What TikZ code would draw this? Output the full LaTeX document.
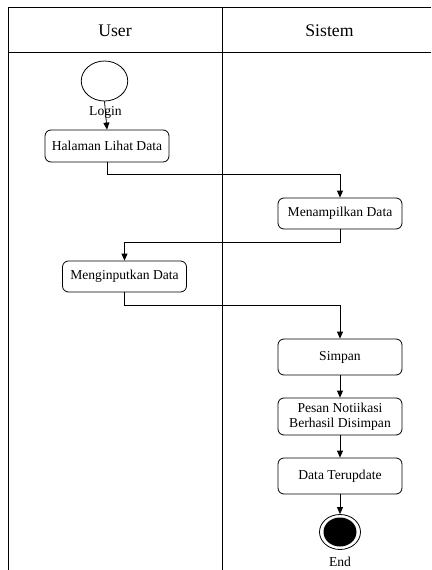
\documentclass[tikz,border=0pt]{standalone}
\usepackage{fontspec}
\setmainfont{Liberation Serif}
\usetikzlibrary{shapes.geometric,arrows.meta}
\begin{document}
\begin{tikzpicture}[x=1pt,y=-1pt,
  frame/.style={line width=1pt},
  conn/.style={line width=0.8pt,-{Triangle[width=6pt,length=7pt]}},
  actbox/.style={draw,line width=0.8pt,rounded corners=6pt,minimum width=124pt,align=center,inner sep=2pt,font=\fontsize{13.6}{15}\selectfont},
  lanehead/.style={font=\fontsize{17.7}{20}\selectfont},
  lbl/.style={font=\fontsize{13.6}{15}\selectfont,inner sep=0pt}]
\useasboundingbox (0,0) rectangle (431,570);
% swimlane frame
\draw[frame] (8,570) -- (8,7) -- (431,7);
\draw[frame] (8,52) -- (431,52);
\draw[frame] (222,7) -- (222,570);
\node[lanehead] (huser) at (115,30.5) {User};
\node[lanehead] (hsis) at (329.5,30.5) {Sistem};
% nodes
\node[draw,ellipse,line width=0.8pt,minimum width=46.5pt,minimum height=40pt,inner sep=0pt] (start) at (104.5,81) {};
\node[actbox,minimum height=32pt] (hal) at (107,146) {Halaman Lihat Data};
\node[actbox,minimum height=31pt] (tampil) at (340,213.5) {Menampilkan Data};
\node[actbox,minimum height=31pt] (input) at (124.5,276.5) {Menginputkan Data};
\node[actbox,minimum height=36pt] (simpan) at (340,357) {Simpan};
\node[actbox,minimum height=37pt] (pesan) at (340,416.5) {Pesan Notiikasi\\Berhasil Disimpan};
\node[actbox,minimum height=36pt] (update) at (340,476) {Data Terupdate};
\node[draw,ellipse,line width=0.8pt,minimum width=41pt,minimum height=35pt,inner sep=0pt] (endo) at (340,532) {};
\node[fill=black,ellipse,minimum width=33pt,minimum height=29pt,inner sep=0pt] (endi) at (340,532) {};
\node[lbl] (endl) at (340,562) {End};
% connectors
\draw[conn] (start.south) -- (hal.north) node[lbl,pos=0.38,fill=none] (loginl) {Login};
\draw[conn] (hal.south) -- ++(0,12) -| (tampil.north);
\draw[conn] (tampil.south) -- ++(0,13) -| (input.north);
\draw[conn] (input.south) -- ++(0,13) -| (simpan.north);
\draw[conn] (simpan.south) -- (pesan.north);
\draw[conn] (pesan.south) -- (update.north);
\draw[conn] (update.south) -- (endo.north);
\end{tikzpicture}
\end{document}
